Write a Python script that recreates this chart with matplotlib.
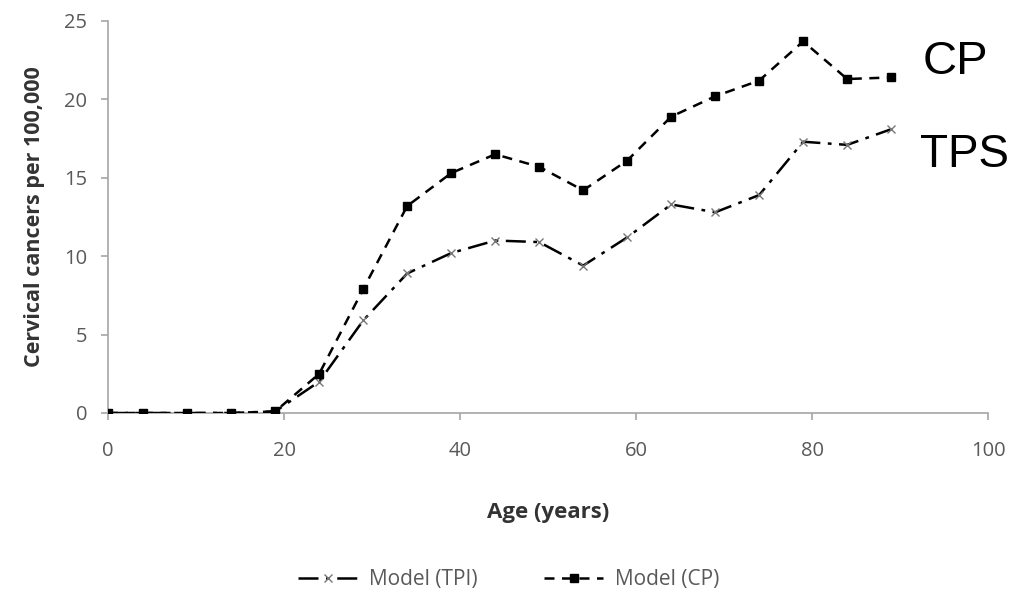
import matplotlib
matplotlib.use("Agg")
import matplotlib.pyplot as plt

# data
ages = [0, 4, 9, 14, 19, 24, 29, 34, 39, 44, 49, 54, 59, 64, 69, 74, 79, 84, 89]
model_tpi = [0, 0, 0, 0, 0.1, 2.0, 5.9, 8.9, 10.2, 11.0, 10.9, 9.4, 11.2, 13.3, 12.8, 13.9, 17.3, 17.1, 18.1]
model_cp = [0, 0, 0, 0, 0.1, 2.5, 7.9, 13.2, 15.3, 16.5, 15.7, 14.2, 16.1, 18.9, 20.2, 21.2, 23.7, 21.3, 21.4]
x_ticks = [0, 20, 40, 60, 80, 100]
y_ticks = [0, 5, 10, 15, 20, 25]

plt.rcParams['font.family'] = ['Open Sans', 'DejaVu Sans']
grey = '#595959'
spine_grey = '#a6a6a6'

fig = plt.figure(figsize=(10.18, 5.96), dpi=100)
ax = fig.add_axes([108 / 1018, 1 - 413 / 596, 880 / 1018, 392 / 596])

ax.plot(ages, model_tpi, color='black', linestyle=(0, (8, 3, 1.5, 3)), linewidth=1.8,
        marker='x', markersize=6, markeredgecolor='#777777', markeredgewidth=1.0,
        label='Model (TPI)', zorder=3)
ax.plot(ages, model_cp, color='black', linestyle=(0, (4, 3)), linewidth=1.8,
        marker='s', markersize=5.5, markerfacecolor='black',
        label='Model (CP)', zorder=4)

ax.set_xlim(0, 100)
ax.set_ylim(0, 25)
ax.set_xticks(x_ticks)
ax.set_yticks(y_ticks)

for side in ['top', 'right']:
    ax.spines[side].set_visible(False)
for side in ['left', 'bottom']:
    ax.spines[side].set_color(spine_grey)
    ax.spines[side].set_linewidth(1.2)
ax.tick_params(axis='both', colors=spine_grey, labelcolor=grey, labelsize=14.5,
               length=5, width=1.2, direction='out')
ax.tick_params(axis='x', pad=15)
ax.tick_params(axis='y', pad=10)

ax.set_xlabel('Age (years)', fontsize=16, fontweight='bold', color='#333333', labelpad=30)
ax.set_ylabel('Cervical cancers per 100,000', fontsize=15.5, fontweight='bold',
              color='#333333', labelpad=14)

fig.text(923 / 1018, 1 - 62 / 596, 'CP', fontsize=34, family='Liberation Sans',
         color='black', va='center', ha='left')
fig.text(920 / 1018, 1 - 155 / 596, 'TPS', fontsize=33, family='Liberation Sans',
         color='black', va='center', ha='left')

fig.legend(loc='center', bbox_to_anchor=(0.5, 1 - 580 / 596), ncol=2, frameon=False,
           fontsize=15, handlelength=2.8, handletextpad=0.6, columnspacing=3.2,
           labelcolor=grey)

fig.savefig('out.png', dpi=100)
